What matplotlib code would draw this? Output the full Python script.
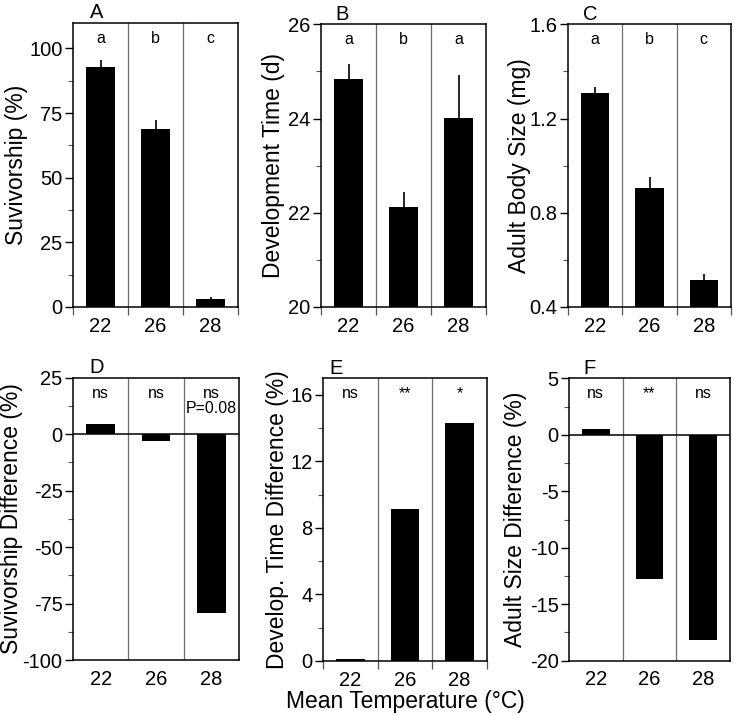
import numpy as np
import matplotlib
matplotlib.use('Agg')
import matplotlib.pyplot as plt
from matplotlib.ticker import FixedLocator

plt.rcParams['font.family'] = ['Liberation Sans', 'DejaVu Sans']

# 数据
temps = ['22', '26', '28']

survival = [92.9, 69.0, 3.0]
survival_err = [2.7, 3.2, 1.0]
survival_sig = ['a', 'b', 'c']

dev_time = [24.83, 22.13, 24.01]
dev_time_err = [0.32, 0.31, 0.91]
dev_time_sig = ['a', 'b', 'a']

body_size = [1.308, 0.907, 0.516]
body_size_err = [0.024, 0.043, 0.026]
body_size_sig = ['a', 'b', 'c']

surv_diff = [4.4, -3.0, -79.3]
surv_diff_sig = ['ns', 'ns', 'ns\nP=0.08']

dev_diff = [0.1, 9.14, 14.29]
dev_diff_sig = ['ns', '**', '*']

size_diff = [0.53, -12.8, -18.2]
size_diff_sig = ['ns', '**', 'ns']

W, H = 734, 716
fig = plt.figure(figsize=(W / 100, H / 100), dpi=100)


def make_axes(left, right, top, bottom):
    # 像素坐标 -> figure 坐标
    return fig.add_axes([left / W, 1 - bottom / H, (right - left) / W, (bottom - top) / H])


def draw_panel(ax, vals, err, sig, letter, ylabel, ylim, major, minor, ticklabels,
               label_x, letter_x, zero_line=False, xticks_out=True):
    x = np.arange(len(temps))
    ax.bar(x, vals, width=0.52, color='black', zorder=2)
    if err is not None:
        ax.errorbar(x, vals, yerr=[np.zeros(len(vals)), err], fmt='none',
                    ecolor='black', elinewidth=1.2, capsize=0, zorder=3)
    for b in [0.5, 1.5]:
        ax.axvline(b, color='#6e6e6e', lw=0.9, zorder=1)
    if zero_line:
        ax.axhline(0, color='black', lw=1.1, zorder=3)

    ax.set_xlim(-0.5, 2.5)
    ax.set_ylim(*ylim)
    ax.set_xticks(x)
    ax.set_xticklabels(temps, fontsize=14.5)
    ax.tick_params(axis='x', which='major', length=0, pad=7)
    if xticks_out:
        ax.xaxis.set_minor_locator(FixedLocator([-0.5, 0.5, 1.5, 2.5]))
        ax.tick_params(axis='x', which='minor', length=5.5, width=0.9, direction='out',
                       color='#555555')
    ax.set_yticks(major)
    ax.set_yticklabels(ticklabels, fontsize=14.5)
    ax.yaxis.set_minor_locator(FixedLocator(minor))
    ax.tick_params(axis='y', which='major', length=6, width=1, pad=1.5)
    ax.tick_params(axis='y', which='minor', length=3.5, width=0.8, color='#555555')
    for s in ax.spines.values():
        s.set_linewidth(1.1)

    for i, s in enumerate(sig):
        # 两行的标注放低一点
        ypos = 0.918 if '\n' in s else 0.945
        ax.text(i, ypos, s, transform=ax.get_xaxis_transform(), ha='center',
                va='center', fontsize=11.5, linespacing=1.05)

    ax.text(letter_x, 1.015, letter, transform=ax.transAxes, ha='center',
            va='baseline', fontsize=14.5)
    ax.set_ylabel(ylabel, fontsize=16.5, va='center')
    ax.yaxis.set_label_coords(label_x, 0.5)


# 第一行
axA = make_axes(73, 238, 22.5, 307)
draw_panel(axA, survival, survival_err, survival_sig, 'A', 'Suvivorship (%)',
           (0, 110), [0, 25, 50, 75, 100], [12.5, 37.5, 62.5, 87.5],
           ['0', '25', '50', '75', '100'], -0.345, 0.145)

axB = make_axes(321, 486, 24.3, 307)
draw_panel(axB, dev_time, dev_time_err, dev_time_sig, 'B', 'Development Time (d)',
           (20, 26), [20, 22, 24, 26], [21, 23, 25],
           ['20', '22', '24', '26'], -0.285, 0.13)

axC = make_axes(568, 731, 24.3, 307)
draw_panel(axC, body_size, body_size_err, body_size_sig, 'C', 'Adult Body Size (mg)',
           (0.4, 1.6), [0.4, 0.8, 1.2, 1.6], [0.6, 1.0, 1.4],
           ['0.4', '0.8', '1.2', '1.6'], -0.30, 0.135)

# 第二行
axD = make_axes(73, 239, 377.7, 660)
draw_panel(axD, surv_diff, None, surv_diff_sig, 'D', 'Suvivorship Difference (%)',
           (-100, 25), [-100, -75, -50, -25, 0, 25],
           [-87.5, -62.5, -37.5, -12.5, 12.5],
           ['-100', '-75', '-50', '-25', '0', '25'], -0.37, 0.145,
           zero_line=True, xticks_out=False)

axE = make_axes(323, 487, 378.3, 661)
draw_panel(axE, dev_diff, None, dev_diff_sig, 'E', 'Develop. Time Difference (%)',
           (0, 17), [0, 4, 8, 12, 16], [2, 6, 10, 14],
           ['0', '4', '8', '12', '16'], -0.28, 0.08)

axF = make_axes(569, 730, 378.3, 660.7)
draw_panel(axF, size_diff, None, size_diff_sig, 'F', 'Adult Size Difference (%)',
           (-20, 5), [-20, -15, -10, -5, 0, 5], [-17.5, -12.5, -7.5, -2.5, 2.5],
           ['-20', '-15', '-10', '-5', '0', '5'], -0.335, 0.13,
           zero_line=True, xticks_out=False)

fig.text(405 / W, 1 - 708 / H, 'Mean Temperature (°C)', ha='center', va='baseline',
         fontsize=16.5)

fig.savefig('out.png', dpi=100)
